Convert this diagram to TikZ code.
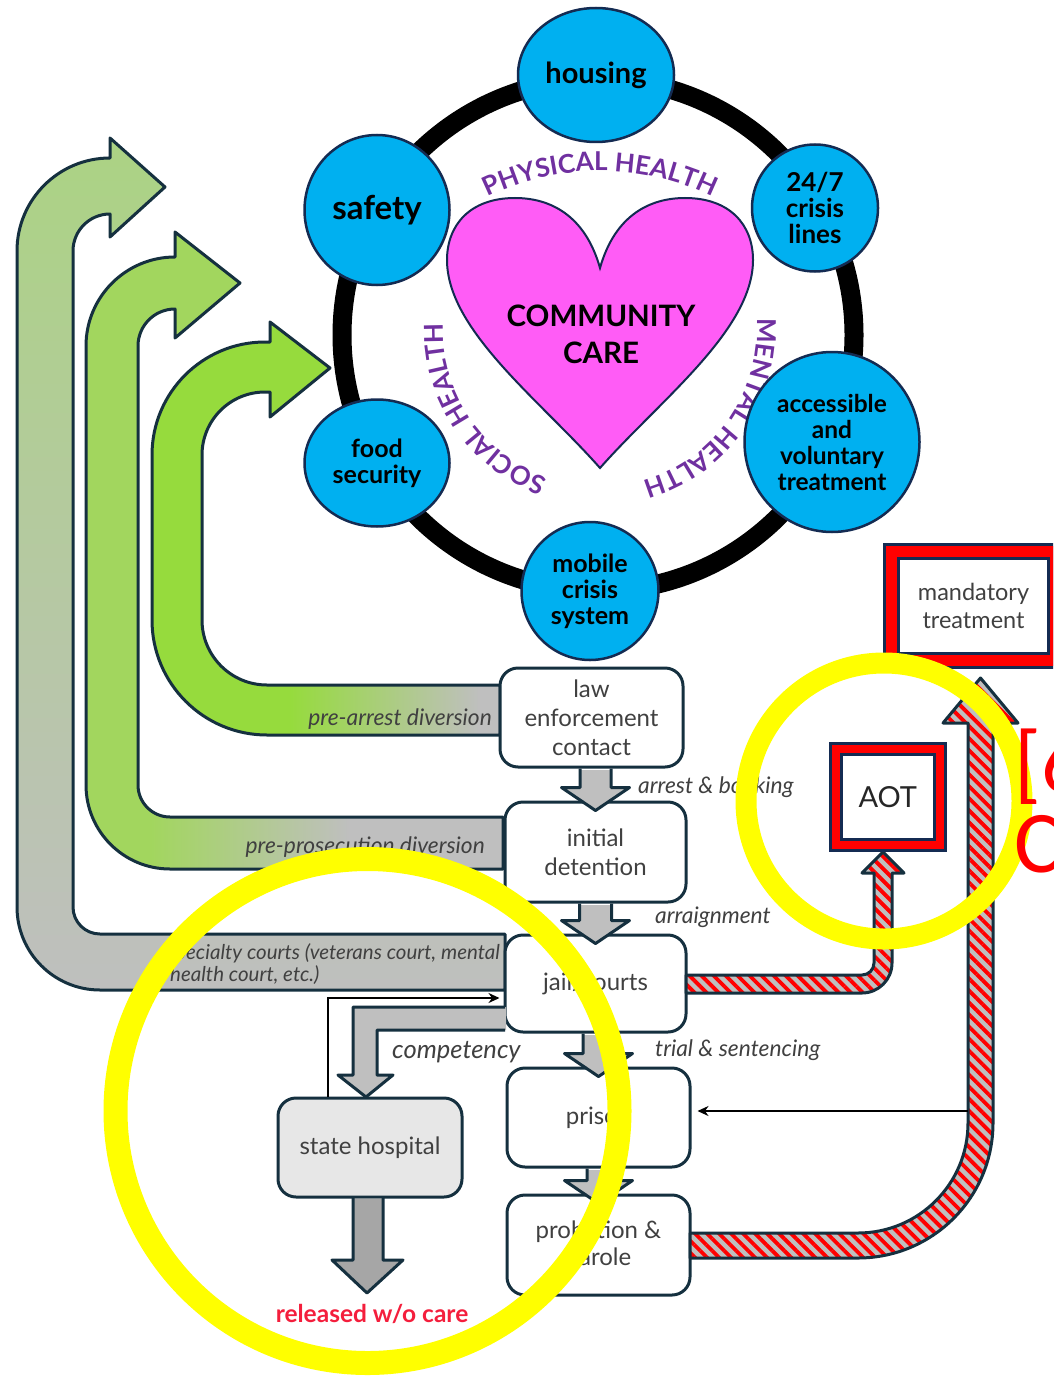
\documentclass[tikz,border=0pt]{standalone}
\usepackage{fontspec}
\setmainfont{Lato}
\newfontfamily\calibfont{Carlito}
\usetikzlibrary{shapes.geometric,decorations.text,patterns.meta,arrows.meta,calc}
\definecolor{cyanC}{HTML}{00B0F0}
\definecolor{navyC}{HTML}{142B52}
\definecolor{boxline}{HTML}{15303F}
\definecolor{heartC}{HTML}{FF5CF6}
\definecolor{purpleT}{HTML}{7030A0}
\definecolor{greenA}{HTML}{ABD383}
\definecolor{greenB}{HTML}{A2D65E}
\definecolor{greenC}{HTML}{96DB3D}
\definecolor{grayA}{HTML}{BFBFBF}
\definecolor{grayD}{HTML}{A6A6A6}
\definecolor{grayH}{HTML}{E7E7E7}
\definecolor{textG}{HTML}{404040}
\definecolor{redB}{HTML}{FF0000}
\definecolor{redT}{HTML}{F41E3C}
\definecolor{yellowR}{HTML}{FFFF00}
\newcommand\fs[2]{\fontsize{#1}{#2}\selectfont}
\newcommand\ringfont{\fontsize{26}{26}\selectfont\bfseries}
\newcommand\blockdown[4]{%
 \fill[#4] let \p1=(#1.south), \p2=(#2.north) in
  (\x2-#3pt,\y1-1.5pt) -- (\x2-#3pt,\y2+13pt) -- (\x2-34pt,\y2+13pt) -- (\x2,\y2-10pt) -- (\x2+34pt,\y2+13pt) -- (\x2+#3pt,\y2+13pt) -- (\x2+#3pt,\y1-1.5pt) -- cycle;
 \draw[shapeline] let \p1=(#1.south), \p2=(#2.north) in
  (\x2-#3pt,\y1) -- (\x2-#3pt,\y2+13pt) -- (\x2-34pt,\y2+13pt) -- (\x2,\y2-10pt) -- (\x2+34pt,\y2+13pt) -- (\x2+#3pt,\y2+13pt) -- (\x2+#3pt,\y1);}
\def\arrowA{(505,934) -- (100,934) arc[start angle=90,end angle=180,radius=27] -- (73,251) arc[start angle=180,end angle=270,radius=37] -- (110,237) -- (165,187) -- (110,138) -- (110,158) arc[start angle=270,end angle=180,radius=93] -- (17,907) arc[start angle=180,end angle=90,radius=83] -- (505,990) -- cycle}
\def\arrowB{(503,817) -- (170,817) arc[start angle=90,end angle=180,radius=32] -- (138,346) arc[start angle=180,end angle=270,radius=37] -- (175,338) -- (240,283) -- (175,232) -- (175,257) arc[start angle=270,end angle=180,radius=89] -- (86,785) arc[start angle=180,end angle=90,radius=84] -- (503,869) -- cycle}
\def\arrowC{(500,685) -- (267,685) arc[start angle=90,end angle=180,radius=65] -- (202,455) arc[start angle=180,end angle=270,radius=63] -- (270,392) -- (270,417) -- (330,368) -- (270,322) -- (270,342) -- (265,342) arc[start angle=270,end angle=180,radius=113] -- (152,620) arc[start angle=180,end angle=90,radius=115] -- (500,735) -- cycle}
\def\hatchA{(686,975) -- (862,975) arc[start angle=90,end angle=0,radius=12] -- (874,873) -- (862,873) -- (883,852) -- (904,873) -- (892,873) -- (892,963) arc[start angle=0,end angle=90,radius=30] -- (686,993) -- cycle}
\def\hatchB{(690,1233) -- (858,1233) arc[start angle=90,end angle=0,radius=110] -- (968,723) -- (943,723) -- (980.5,678) -- (1018,723) -- (993,723) -- (993,1123) arc[start angle=0,end angle=90,radius=135] -- (690,1258) -- cycle}
\begin{document}
\begin{tikzpicture}[x=1pt,y=-1pt,
  ringnode/.style={ellipse, draw=navyC, line width=2.5pt, fill=cyanC, align=center, inner sep=0pt, text=black},
  flowbox/.style={draw=boxline, line width=3pt, rounded corners=18pt, fill=white, align=center, text=textG, inner sep=0pt, font=\fs{24}{29}},
  lbl/.style={font=\itshape\fs{22.8}{25}, text=textG, inner sep=0pt},
  shapeline/.style={draw=boxline, line width=3pt, line join=round},
  hatchfill/.style={pattern={Lines[angle=-45,distance=8.5pt,line width=3.8pt]}, pattern color=redB},
  redframe/.style={draw=navyC, line width=3pt, double=redB, double distance=8pt, fill=white, inner sep=0pt, align=center},
  ringtext/.style={decorate, decoration={text along path, text align=center, text color=purpleT}},
  thinarrow/.style={line width=2.8pt, -{Stealth[length=11pt,width=10pt]}}
]
\useasboundingbox (0,0) rectangle (1053,1380);
\clip (0,0) rectangle (1053,1380);
\fill[white] (0,0) rectangle (1053,1380);

% ring
\draw[line width=19pt] (598,335) circle[radius=256];

% heart
\draw[fill=heartC, draw=navyC, line width=2pt] (600,268) .. controls (585,215) and (550,198) .. (515,198) .. controls (470,198) and (447,225) .. (447,260) .. controls (447,330) and (540,400) .. (600,468) .. controls (660,400) and (753,330) .. (753,260) .. controls (753,225) and (730,198) .. (685,198) .. controls (650,198) and (615,215) .. (600,268) -- cycle;
\node[font=\bfseries\fs{29.5}{37}, align=center, inner sep=0pt] (cc) at (601,334) {COMMUNITY\\CARE};

% ring texts
\path[ringtext, decoration={text={|\ringfont|PHYSICAL HEALTH}}] (600,426) ++(230:255) arc[start angle=230,end angle=310,radius=255];
\path[ringtext, decoration={text={|\ringfont|SOCIAL HEALTH}}] (600,330) ++(96:157) arc[start angle=96,end angle=196,radius=157];
\path[ringtext, decoration={text={|\ringfont|MENTAL HEALTH}}] (600,330) ++(-20:157) arc[start angle=-20,end angle=90,radius=157];

% ring nodes
\node[ringnode, minimum width=156pt, minimum height=134pt, font=\bfseries\fs{29}{30}] (housing) at (596,75) {housing};
\node[ringnode, minimum width=145pt, minimum height=150pt, font=\bfseries\fs{33}{34}] (safety) at (377,210) {safety};
\node[ringnode, minimum width=126pt, minimum height=127pt, font=\bfseries\fs{26}{26}] (crisis) at (815,208) {24/7\\crisis\\lines};
\node[ringnode, minimum width=145pt, minimum height=127pt, font=\bfseries\fs{25}{26}] (food) at (377,463) {food\\security};
\node[ringnode, minimum width=175pt, minimum height=180pt, font=\bfseries\fs{24.5}{26}] (access) at (832,442) {accessible\\and\\voluntary\\treatment};
\node[ringnode, minimum width=137pt, minimum height=138pt, font=\bfseries\fs{25}{26}] (mobile) at (590,591) {mobile\\crisis\\system};

% green diversion arrows
\begin{scope}
\clip \arrowA;
\shade[top color=greenA, bottom color=grayA] (0,130) rectangle (520,1000);
\end{scope}
\begin{scope}
\clip \arrowB;
\fill[greenB] (60,220) rectangle (520,880);
\shade[left color=greenB, right color=grayA] (150,800) rectangle (350,880);
\fill[grayA] (350,800) rectangle (520,880);
\end{scope}
\begin{scope}
\clip \arrowC;
\fill[greenC] (140,300) rectangle (520,740);
\shade[left color=greenC, right color=grayA] (290,680) rectangle (480,740);
\fill[grayA] (480,680) rectangle (520,740);
\end{scope}
\draw[shapeline] \arrowA;
\draw[shapeline] \arrowB;
\draw[shapeline] \arrowC;

% flow boxes
\node[flowbox, minimum width=183pt, minimum height=99pt] (law) at (591.5,717.5) {law\\enforcement\\contact};
\node[flowbox, minimum width=181pt, minimum height=100pt] (init) at (595.5,852) {initial\\detention};
\node[flowbox, minimum width=181pt, minimum height=97pt] (jail) at (595.5,983.5) {jail/courts};
\node[flowbox, minimum width=183pt, minimum height=99pt] (prison) at (598.5,1117.5) {prison};
\node[flowbox, minimum width=183pt, minimum height=100pt, font=\fs{24}{27}] (prob) at (598.5,1245) {probation \&\\parole};
\node[flowbox, minimum width=184pt, minimum height=99pt, fill=grayH] (hosp) at (370,1147.5) {state hospital};

% block arrows between boxes
\blockdown{law}{init}{15.5}{grayA}
\blockdown{init}{jail}{16}{grayA}
\blockdown{jail}{prison}{15.5}{grayA}
\blockdown{prison}{prob}{11.5}{grayA}

% competency arrow
\fill[grayA] (506,1007) -- (353,1007) -- (353,1075) -- (338,1075) -- (366,1097) -- (393,1075) -- (377,1075) -- (377,1030) -- (506,1030) -- cycle;
\draw[shapeline] (505,1007) -- (353,1007) -- (353,1075) -- (338,1075) -- (366,1097) -- (393,1075) -- (377,1075) -- (377,1030) -- (505,1030);

% state hospital -> released
\fill[grayD] (353,1198.5) -- (353,1260) -- (332,1260) -- (367,1293) -- (403,1260) -- (383,1260) -- (383,1198.5) -- cycle;
\draw[shapeline] (353,1197) -- (353,1260) -- (332,1260) -- (367,1293) -- (403,1260) -- (383,1260) -- (383,1197);
\node[font=\bfseries\fs{24.5}{26}, text=redT, inner sep=0pt] (rel) at (372,1314) {released w/o care};

% thin arrow hospital -> jail
\coordinate (hx) at (328,0);
\coordinate (hy) at (0,998);
\draw[thinarrow] (hosp.north -| hx) |- ([xshift=-4pt]jail.west |- hy);

% hatched arrows
\fill[grayA] \hatchA;
\path[hatchfill] \hatchA;
\draw[shapeline] \hatchA;
\fill[grayA] \hatchB;
\path[hatchfill] \hatchB;
\draw[shapeline] \hatchB;

% thin arrow to prison
\coordinate (py) at (0,1111);
\coordinate (px) at (968,0);
\draw[thinarrow] (px |- py) -- ([xshift=6pt]prison.east |- py);

% red framed boxes
\node[redframe, minimum width=103.5pt, minimum height=96pt, font=\fs{29}{32}, text=black!85] (aot) at (887.75,797) {AOT};
\node[redframe, double distance=11pt, minimum width=164pt, minimum height=109.5pt, font=\fs{23.5}{28}, text=textG] (mand) at (973.5,606) {mandatory\\treatment};

% labels
\node[lbl, anchor=east] (lpa) at (492,719) {pre-arrest diversion};
\node[lbl, anchor=east] (lpp) at (485,847) {pre-prosecution diversion};
\node[lbl, anchor=east, font=\itshape\fs{20.5}{23}] (lsc1) at (500,953) {specialty courts (veterans court, mental};
\node[lbl, anchor=west, font=\itshape\fs{20.5}{23}] (lsc2) at (170,975) {health court, etc.)};
\node[lbl, anchor=west] (lab) at (638,787) {arrest \& booking};
\node[lbl, anchor=west] (lar) at (655,917) {arraignment};
\node[lbl, anchor=west, font=\itshape\fs{25.5}{28}] (lco) at (392,1052) {competency};
\node[lbl, anchor=west] (lts) at (655,1050) {trial \& sentencing};

% yellow annotation rings
\draw[yellowR, line width=24pt] (367.5,1111) circle[radius=252];
\draw[yellowR, line width=21pt] (884,801) circle[radius=138];

% red cut-off text
\node[anchor=base west, inner sep=0pt, text=redB, font=\calibfont\fs{88}{88}] (r6) at (1014,792) {[6};
\node[anchor=base west, inner sep=0pt, text=redB, font=\calibfont\fs{88}{88}] (rc) at (1014,872) {C};
\end{tikzpicture}
\end{document}
